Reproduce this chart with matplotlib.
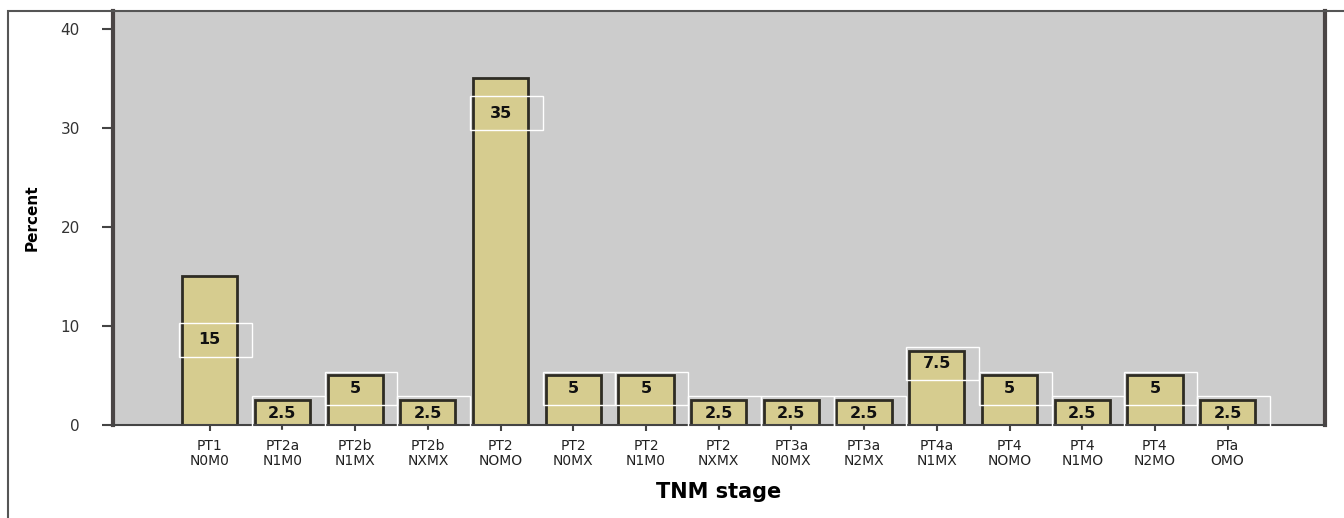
import matplotlib.pyplot as plt
from matplotlib.patches import Rectangle

# TNM staging distribution
stages = ['PT1\nN0M0', 'PT2a\nN1M0', 'PT2b\nN1MX', 'PT2b\nNXMX', 'PT2\nNOMO',
          'PT2\nN0MX', 'PT2\nN1M0', 'PT2\nNXMX', 'PT3a\nN0MX', 'PT3a\nN2MX',
          'PT4a\nN1MX', 'PT4\nNOMO', 'PT4\nN1MO', 'PT4\nN2MO', 'PTa\nOMO']
percent = [15, 2.5, 5, 2.5, 35, 5, 5, 2.5, 2.5, 2.5, 7.5, 5, 2.5, 5, 2.5]
value_labels = ['15', '2.5', '5', '2.5', '35', '5', '5', '2.5', '2.5', '2.5',
                '7.5', '5', '2.5', '5', '2.5']

fig = plt.figure(figsize=(13.44, 5.18), dpi=100)
ax = fig.add_axes([0.0841, 0.1795, 0.9018, 0.7993])
ax.set_facecolor('#cccccc')

xs = list(range(len(stages)))
ax.bar(xs, percent, width=0.76, color='#d6cc8f', edgecolor='#2e2c24',
       linewidth=2.0, zorder=2)

# value labels sit inside the bars, each in a thin white box
for x, v, lab in zip(xs, percent, value_labels):
    if v >= 30:
        ly = v - 3.5
    elif v >= 10:
        ly = v - 6.4
    else:
        ly = v - 1.3
    ax.text(x, ly, lab, ha='center', va='center', fontsize=11.5,
            fontweight='bold', color='#111111', zorder=4)
    ax.add_patch(Rectangle((x - 0.42, ly - 1.7), 1.0, 3.4, fill=False,
                           edgecolor='white', linewidth=1.0, zorder=3,
                           clip_on=False))

ax.set_xlim(-1.33, 15.34)
ax.set_ylim(0, 41.8)
ax.set_yticks([0, 10, 20, 30, 40])
ax.set_xticks(xs)
ax.set_xticklabels(stages, fontsize=10, color='#222222', linespacing=1.1)
ax.tick_params(axis='y', length=8, width=1.5, color='#444444', pad=16,
               labelsize=11, labelcolor='#333333')
ax.tick_params(axis='x', length=4, width=1.5, color='#444444', pad=6)

for side in ['left', 'right']:
    ax.spines[side].set_linewidth(3)
    ax.spines[side].set_color('#4a4545')
ax.spines['bottom'].set_linewidth(1.5)
ax.spines['bottom'].set_color('#444444')
ax.spines['top'].set_visible(False)

ax.set_ylabel('Percent', fontsize=11, fontweight='bold', labelpad=15)
ax.set_xlabel('TNM stage', fontsize=15, fontweight='bold', labelpad=10)

# outer frame around the chart
fig.patches.append(Rectangle((8 / 1344, -0.2), 1.2, 0.2 + 507 / 518,
                             transform=fig.transFigure, fill=False,
                             edgecolor='#555555', linewidth=1.5))

fig.savefig('out.png', dpi=100)
